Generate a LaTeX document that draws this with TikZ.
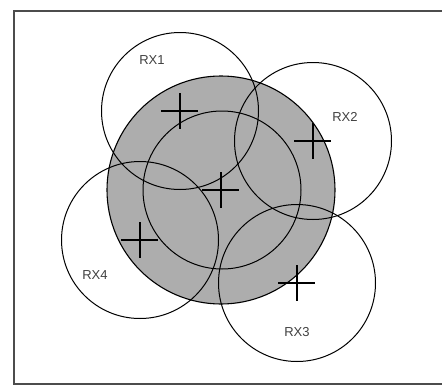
\documentclass[tikz,border=0pt]{standalone}
\usepackage{fontspec}
\setmainfont{Liberation Sans}
\usepackage{xcolor}
\usepackage{tikz}

\begin{document}
\begin{tikzpicture}[
  x=1pt, y=-1pt,
  frame/.style={draw=black!70, line width=1.4pt},
  zone/.style={draw, line width=1.1pt, fill=black!32},
  cell/.style={draw, line width=1pt},
  cross/.style={draw, line width=1.2pt},
  rxlabel/.style={font=\fontsize{13}{15}\selectfont, text=black!75}
]
\useasboundingbox (0,0) rectangle (442,388);
\draw[frame] (442,11) -- (14,11) -- (14,384) -- (442,384);

% coverage area and receiver centres
\coordinate (c0) at (221,190);
\coordinate (rx1) at (180,111);
\coordinate (rx2) at (313,141);
\coordinate (rx3) at (297,283);
\coordinate (rx4) at (140,240);

\path[zone] (c0) circle (114);
\path[cell] (222,190) circle (79);
\foreach \p in {rx1,rx2,rx3,rx4}
  \path[cell] (\p) circle (78.5);

% crosses
\foreach \p in {c0,rx1,rx2,rx3,rx4}
  \path[cross] ([xshift=-19pt]\p) -- ([xshift=18pt]\p)
               ([yshift=18pt]\p) -- ([yshift=-18pt]\p);

\node[rxlabel] (l1) at (152,60) {RX1};
\node[rxlabel] (l2) at (345,117) {RX2};
\node[rxlabel] (l3) at (297,332) {RX3};
\node[rxlabel] (l4) at (95,275) {RX4};
\end{tikzpicture}
\end{document}
